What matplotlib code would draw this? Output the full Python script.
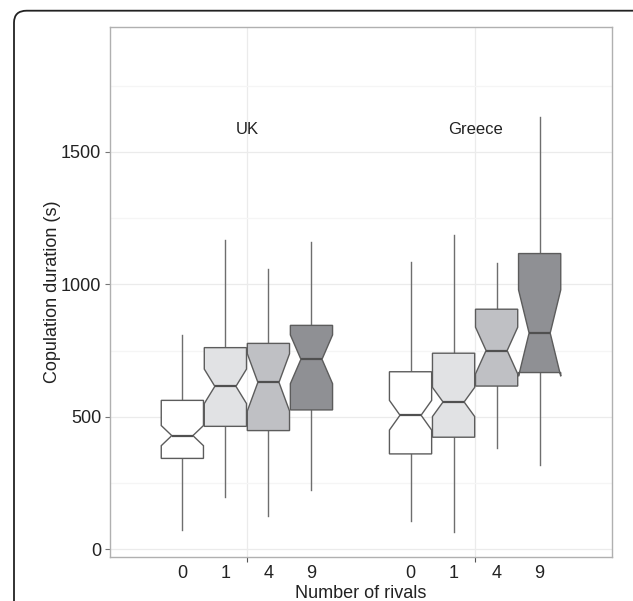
import matplotlib
matplotlib.use('Agg')
import matplotlib.pyplot as plt
from matplotlib.patches import FancyBboxPatch
from matplotlib.ticker import FixedLocator, FixedFormatter, NullFormatter

plt.rcParams['font.family'] = ['Liberation Sans', 'DejaVu Sans']

# ---- data ----
countries = ['UK', 'Greece']
rivals = ['0', '1', '4', '9']
fill_colors = ['#ffffff', '#e1e2e4', '#bfc0c4', '#8f9094']

uk_low = [73, 199, 127, 224]
uk_q1 = [343, 464, 448, 526]
uk_med = [429, 615, 630, 717]
uk_q3 = [562, 761, 777, 845]
uk_high = [809, 1168, 1058, 1159]
uk_notch = [38, 65, 108, 92]

gr_low = [108, 64, 383, 318]
gr_q1 = [360, 423, 616, 667]
gr_med = [506, 556, 750, 816]
gr_q3 = [670, 740, 906, 1116]
gr_high = [1084, 1185, 1080, 1631]
gr_notch = [56, 55, 88, 163]

yticks = [0, 500, 1000, 1500]
yminor = [250, 750, 1250, 1750]

# ---- figure ----
W, H = 633, 601
fig = plt.figure(figsize=(W / 100, H / 100), dpi=100)
ax = fig.add_axes([110 / W, 1 - 557 / H, (612 - 110) / W, (557 - 26.7) / H])

groups = [
    (uk_low, uk_q1, uk_med, uk_q3, uk_high, uk_notch),
    (gr_low, gr_q1, gr_med, gr_q3, gr_high, gr_notch),
]
spacing = 0.1886
offsets = [(i - 1.5) * spacing for i in range(len(rivals))]
box_w = 0.185

stats, positions, colors = [], [], []
for gi, (lo, q1, med, q3, hi, nt) in enumerate(groups):
    for ri in range(len(rivals)):
        stats.append(dict(whislo=lo[ri], q1=q1[ri], med=med[ri], q3=q3[ri],
                          whishi=hi[ri], cilo=med[ri] - nt[ri],
                          cihi=med[ri] + nt[ri], fliers=[]))
        positions.append(gi + 1 + offsets[ri])
        colors.append(fill_colors[ri])

edge = '#5c5c5c'
bp = ax.bxp(stats, positions=positions, widths=box_w, shownotches=True,
            showcaps=False, showfliers=False, patch_artist=True,
            boxprops=dict(edgecolor=edge, linewidth=1.0),
            whiskerprops=dict(color='#6e6e6e', linewidth=1.0),
            medianprops=dict(color='#505050', linewidth=1.6))
for patch, c in zip(bp['boxes'], colors):
    patch.set_facecolor(c)
    patch.set_zorder(3)
for l in bp['medians']:
    l.set_zorder(4)

ax.set_xlim(0.4, 2.6)
ax.set_ylim(-29, 1972)

# axes styling
ax.set_axisbelow(True)
ax.yaxis.set_major_locator(FixedLocator(yticks))
ax.yaxis.set_minor_locator(FixedLocator(yminor))
ax.yaxis.set_minor_formatter(NullFormatter())
ax.grid(which='major', axis='both', color='#ebebeb', linewidth=0.9)
ax.grid(which='minor', axis='y', color='#f5f5f5', linewidth=0.9)

ax.xaxis.set_major_locator(FixedLocator([1, 2]))
ax.xaxis.set_major_formatter(NullFormatter())
ax.xaxis.set_minor_locator(FixedLocator(positions))
ax.xaxis.set_minor_formatter(FixedFormatter(rivals * len(countries)))
ax.tick_params(axis='x', which='minor', length=0, pad=6, labelsize=13,
               labelcolor='#222222')
ax.tick_params(axis='x', which='major', length=3.4, width=0.8, color='#555555')
ax.tick_params(axis='y', which='major', length=3.4, width=0.8, color='#777777',
               pad=3, labelsize=13, labelcolor='#222222')
ax.tick_params(axis='y', which='minor', length=0)

for s in ax.spines.values():
    s.set_color('#b0b0b0')
    s.set_linewidth(1.0)

ax.set_ylabel('Copulation duration (s)', fontsize=13, color='#222222', va='center')
ax.yaxis.set_label_coords((53 - 110) / 502, 0.5)
ax.set_xlabel('Number of rivals', fontsize=13, color='#222222', va='center')
ax.xaxis.set_label_coords(0.5, (557 - 593) / 530.3)

for gi, name in enumerate(countries):
    ax.text(gi + 1, 1585, name, ha='center', va='center', fontsize=12,
            color='#222222')

# outer rounded frame
frame = FancyBboxPatch((14 / W, -0.05), 1.2, 1 - 10.7 / H + 0.05,
                       boxstyle='round,pad=0,rounding_size=0.02',
                       transform=fig.transFigure, fill=False,
                       edgecolor='#222222', linewidth=1.3, clip_on=False)
fig.patches.append(frame)

fig.savefig('out.png', dpi=100)
